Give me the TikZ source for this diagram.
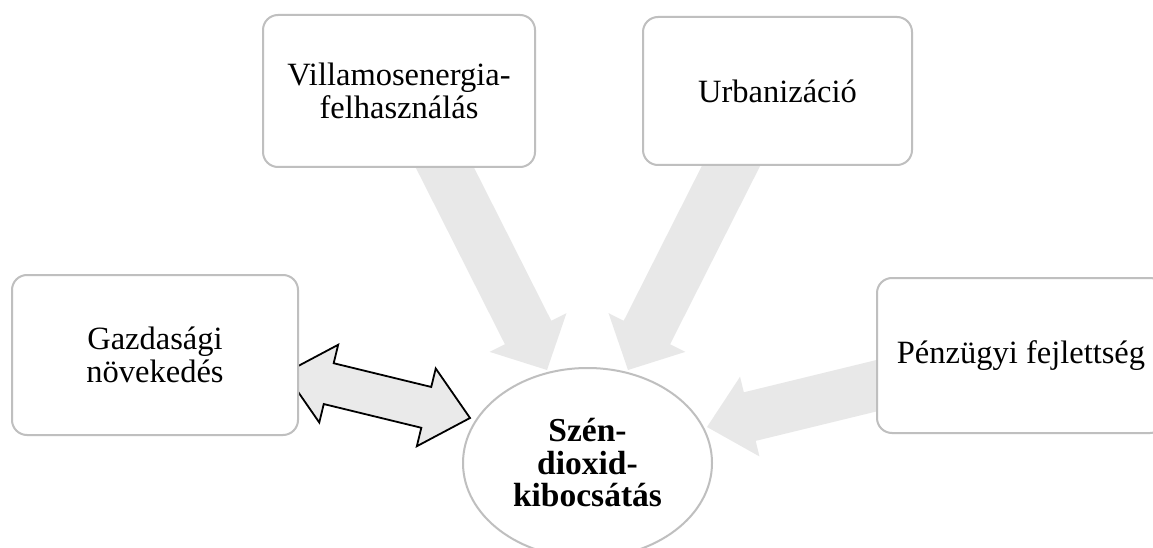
\documentclass[tikz,border=0pt]{standalone}
\usepackage{fontspec}
\setmainfont{Liberation Serif}
\usetikzlibrary{calc,shapes.geometric}
\definecolor{boxline}{HTML}{BFBFBF}
\definecolor{arrgray}{HTML}{E8E8E8}
\definecolor{dblgray}{HTML}{EAEAEA}
\tikzset{
  factorbox/.style={draw=boxline, line width=2pt, fill=white, rounded corners=15pt,
    align=center, inner sep=0pt, font=\fontsize{32.5}{32.5}\selectfont},
  centerell/.style={ellipse, draw=boxline, line width=2pt, fill=white, align=center,
    inner sep=0pt, font=\fontsize{33.5}{32.5}\selectfont\bfseries},
  grayarrow/.style={fill=arrgray},
  twoheadarrow/.style={fill=dblgray, draw=black, line width=1.8pt, line join=miter},
}
% #1 style, #2 tail, #3 tip, #4 shaft half width, #5 head half width, #6 head length
\newcommand\blockarrow[6]{%
  \coordinate (bah) at ($(#3)!#6!(#2)$);
  \path[#1] ($(#2)!#4!90:(#3)$) -- ($(bah)!#4!90:(#3)$) -- ($(bah)!#5!90:(#3)$) -- (#3)
    -- ($(bah)!#5!-90:(#3)$) -- ($(bah)!#4!-90:(#3)$) -- ($(#2)!#4!-90:(#3)$) -- cycle;
}
% #1 style, #2 first tip, #3 second tip, #4 shaft half width, #5 head half width, #6 head length
\newcommand\twoheadblock[6]{%
  \coordinate (hha) at ($(#2)!#6!(#3)$);
  \coordinate (hhb) at ($(#3)!#6!(#2)$);
  \path[#1] (#2) -- ($(hha)!#5!90:(#3)$) -- ($(hha)!#4!90:(#3)$) -- ($(hhb)!#4!90:(#3)$)
    -- ($(hhb)!#5!90:(#3)$) -- (#3) -- ($(hhb)!#5!-90:(#3)$) -- ($(hhb)!#4!-90:(#3)$)
    -- ($(hha)!#4!-90:(#3)$) -- ($(hha)!#5!-90:(#3)$) -- cycle;
}
\begin{document}
\begin{tikzpicture}[x=1pt,y=-1pt]
\path[use as bounding box, clip] (0,0) rectangle (1153,548);
\fill[white] (0,0) rectangle (1153,548);
% central ellipse
\node[centerell, minimum width=249pt, minimum height=190pt] (co2) at (587.5,463)
  {Szén-\\dioxid-\\kibocsátás};
% arrow ends
\coordinate (t1) at (436,150);  \coordinate (p1) at (547,370);
\coordinate (t2) at (739,150);  \coordinate (p2) at (628,370);
\coordinate (t3) at (900,380);  \coordinate (p3) at (707,427);
\coordinate (dl) at (285,373);  \coordinate (dr) at (470,418);
\blockarrow{grayarrow}{t1}{p1}{26pt}{43pt}{42pt}
\blockarrow{grayarrow}{t2}{p2}{26pt}{43pt}{42pt}
\blockarrow{grayarrow}{t3}{p3}{25pt}{41pt}{44pt}
\twoheadblock{twoheadarrow}{dl}{dr}{21pt}{40pt}{45pt}
% factor boxes
\node[factorbox, minimum width=272pt, minimum height=152pt] (villa) at (399,91)
  {Villamosenergia-\\felhasználás};
\node[factorbox, minimum width=269pt, minimum height=148pt] (urban) at (777.5,91)
  {Urbanizáció};
\node[factorbox, minimum width=286pt, minimum height=160pt] (gazd) at (155,355)
  {Gazdasági\\növekedés};
\node[factorbox, minimum width=288pt, minimum height=155pt] (penz) at (1021,355.5)
  {Pénzügyi fejlettség};
\end{tikzpicture}
\end{document}
